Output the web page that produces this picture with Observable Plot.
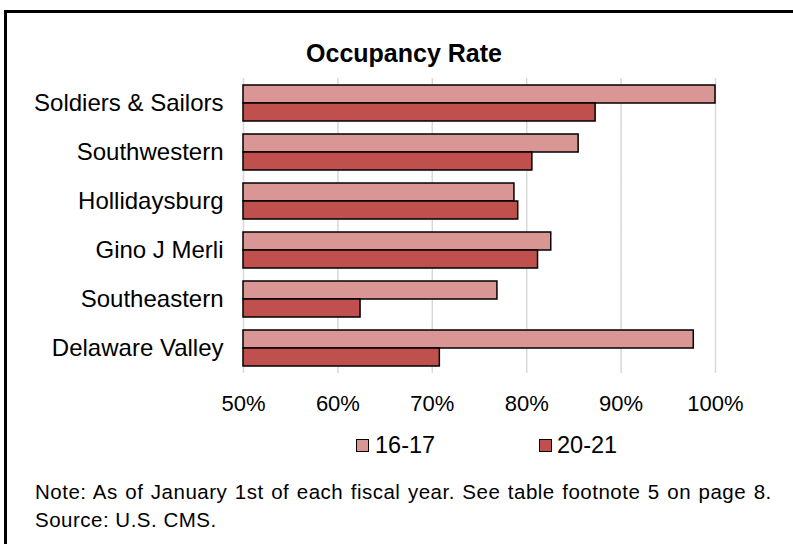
<!DOCTYPE html>
<html>
<head>
<meta charset="utf-8">
<script src="https://cdn.jsdelivr.net/npm/d3@7"></script>
<script src="https://cdn.jsdelivr.net/npm/@observablehq/plot@0.6"></script>
<style>
  html, body { margin: 0; padding: 0; background: #fff; width: 793px; height: 544px; overflow: hidden; }
  body { font-family: "Liberation Sans", Arial, sans-serif; color: #000; position: relative; }
  #frame { position: absolute; left: 4px; top: 10px; width: 900px; height: 700px; border: 3px solid #000; box-sizing: border-box; }
  #title { position: absolute; left: 0; top: 41px; width: 808px; text-align: center; font-weight: bold; font-size: 25px; line-height: 25px; }
  #chart { position: absolute; left: 0; top: 0; }
  #chart [aria-label^="fy-axis"] text { font-size: 24px !important; }
  #chart [aria-label^="x-axis"] text { font-size: 22px !important; }
  .leg { position: absolute; font-size: 23.5px; line-height: 23.5px; top: 434px; white-space: nowrap; }
  .sw { position: absolute; width: 13px; height: 13px; border: 1.5px solid #000; box-sizing: border-box; top: 439px; }
  #note { position: absolute; left: 35px; top: 478px; font-size: 20.5px; line-height: 28px; letter-spacing: 0.5px; white-space: nowrap; }
  #note .l1 { word-spacing: 1.3px; }
</style>
</head>
<body>
<div id="frame"></div>
<div id="title">Occupancy Rate</div>
<div id="chart"></div>
<div id="legend"></div>
<div id="note"><span class="l1">Note: As of January 1st of each fiscal year. See table footnote 5 on page 8.</span><br>Source: U.S. CMS.</div>
<script>
const categories = ["Soldiers & Sailors", "Southwestern", "Hollidaysburg", "Gino J Merli", "Southeastern", "Delaware Valley"];
const series = ["16-17", "20-21"];
const values1617 = [1.000, 0.855, 0.787, 0.826, 0.769, 0.977];
const values2021 = [0.873, 0.806, 0.791, 0.812, 0.624, 0.708];
const xDomain = [0.5, 1.0];
const xTicks = [0.5, 0.6, 0.7, 0.8, 0.9, 1.0];
const colors = ["#D99694", "#C0504D"];

const rows = [];
categories.forEach((c, i) => {
  rows.push({category: c, series: series[0], value: values1617[i]});
  rows.push({category: c, series: series[1], value: values2021[i]});
});

const font = '"Liberation Sans", Arial, sans-serif';
const chart = Plot.plot({
  width: 793,
  height: 425,
  marginLeft: 243,
  marginRight: 78,
  marginTop: 76,
  marginBottom: 51,
  style: {fontFamily: font, fontSize: "22px", color: "#000", background: "transparent", overflow: "visible"},
  x: {domain: xDomain, ticks: xTicks, tickFormat: d3.format(".0%"), tickSize: 0, tickPadding: 29, label: null},
  y: {domain: series, axis: null, padding: 0},
  fy: {domain: categories, paddingInner: 0.27, paddingOuter: 0.135, axis: "left", label: null, tickSize: 0, tickPadding: 20},
  color: {domain: series, range: colors},
  facet: {data: rows, y: "category"},
  marks: [
    Plot.ruleX(xTicks, {stroke: "#d9d9d9", strokeWidth: 1.5, insetTop: -7, insetBottom: -7}),
    Plot.barX(rows, {x1: () => xDomain[0], x2: "value", y: "series", fill: "series", stroke: "#000", strokeWidth: 1.5})
  ]
});
document.getElementById("chart").appendChild(chart);

// legend
const legend = document.getElementById("legend");
const legPos = [{sw: 356, tx: 375}, {sw: 539, tx: 557}];
series.forEach((s, i) => {
  const sw = document.createElement("div");
  sw.className = "sw";
  sw.style.left = legPos[i].sw + "px";
  sw.style.background = colors[i];
  legend.appendChild(sw);
  const t = document.createElement("div");
  t.className = "leg";
  t.style.left = legPos[i].tx + "px";
  t.textContent = s;
  legend.appendChild(t);
});
</script>
</body>
</html>
